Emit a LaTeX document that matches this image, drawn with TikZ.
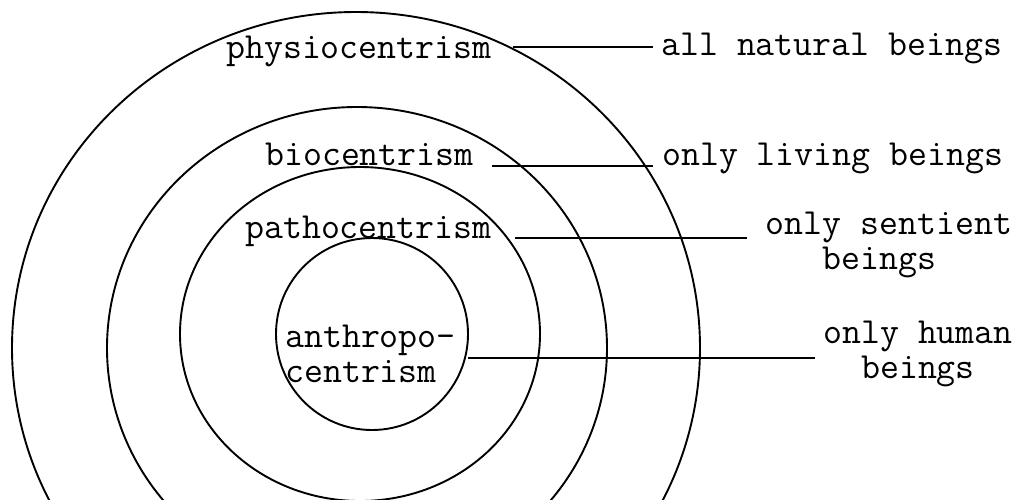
\documentclass[tikz,border=0pt]{standalone}
\usepackage{fontspec}
\begin{document}
\begin{tikzpicture}[x=1pt,y=-1pt,
  ring/.style={draw=black,line width=1.9pt},
  conn/.style={draw=black,line width=1.9pt},
  lbl/.style={font=\ttfamily\fontsize{36.8}{35}\selectfont,inner sep=0pt,anchor=base west},
  mlbl/.style={font=\ttfamily\fontsize{36.8}{35}\selectfont,inner sep=0pt,align=center}]
\useasboundingbox (0,0) rectangle (1023,499);
\clip (0,0) rectangle (1023,499);
\fill[white] (0,0) rectangle (1023,499);
% rings
\draw[ring] (356,348) ellipse [x radius=344pt, y radius=336pt];
\draw[ring] (357,348) ellipse [x radius=250pt, y radius=241pt];
\draw[ring] (360,334) ellipse [x radius=180pt, y radius=167pt];
\draw[ring] (372,334) circle [radius=96pt];
% left labels
\node[lbl] (phys) at (226,58) {physiocentrism};
\node[lbl] (bio) at (265,165) {biocentrism};
\node[lbl] (patho) at (245,238) {pathocentrism};
\node[lbl] (anthro) at (285,347) {\begin{tabular}[t]{@{}l@{}}anthropo-\\centrism\end{tabular}};
% right labels
\node[lbl] (all) at (661,55) {all natural beings};
\node[lbl] (living) at (662,165) {only living beings};
\node[mlbl,anchor=north] (sentient) at (889,212) {only sentient\\beings\hphantom{x}};
\node[mlbl,anchor=north] (human) at (918,321) {only human\\beings};
% connector ends
\coordinate (a1) at (513,47);  \coordinate (b1) at (653,47);
\coordinate (a2) at (492,166); \coordinate (b2) at (653,166);
\coordinate (a3) at (515,238); \coordinate (b3) at (747,238);
\coordinate (a4) at (468,358); \coordinate (b4) at (815,358);
\draw[conn] (a1) -- (b1);
\draw[conn] (a2) -- (b2);
\draw[conn] (a3) -- (b3);
\draw[conn] (a4) -- (b4);
\end{tikzpicture}
\end{document}
